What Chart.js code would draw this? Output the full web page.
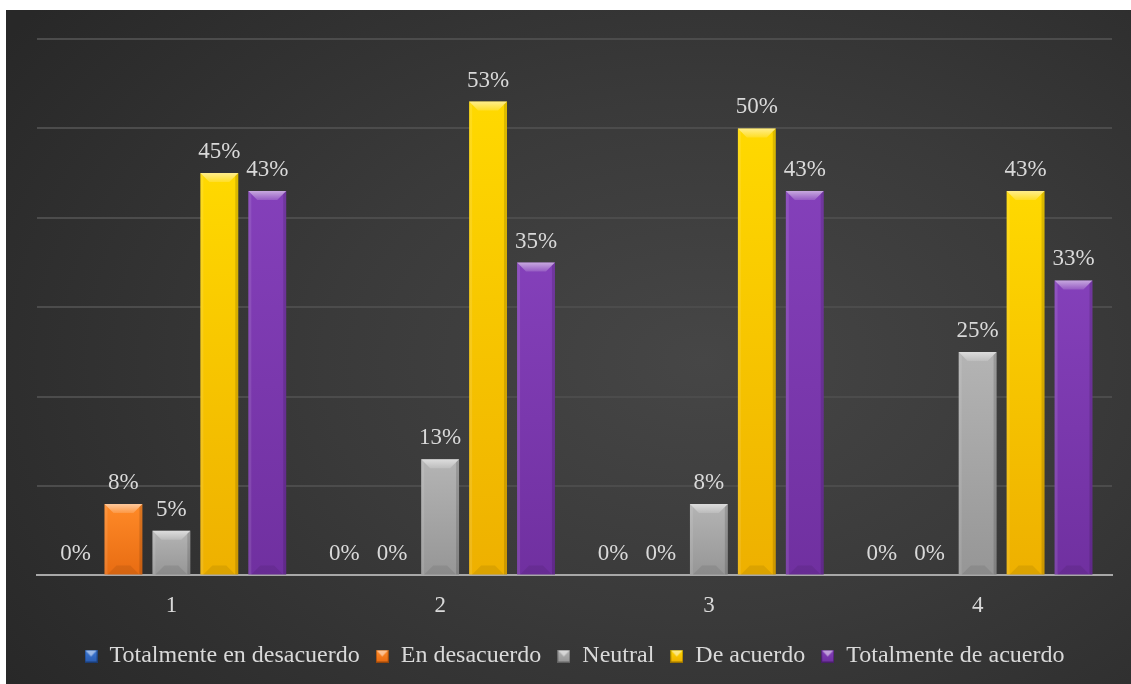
<!DOCTYPE html>
<html>
<head>
<meta charset="utf-8">
<script src="https://cdn.jsdelivr.net/npm/chart.js@4.4.1/dist/chart.umd.min.js"></script>
<style>
  html, body { margin: 0; padding: 0; background: #ffffff; }
  #wrap {
    position: absolute; left: 6px; top: 10px; width: 1125px; height: 674px;
    background: radial-gradient(ellipse 75% 85% at 62% 52%, #464646 0%, #3a3a3a 45%, #282828 100%);
  }
</style>
</head>
<body>
<div id="wrap"><canvas id="chart" width="1125" height="674"></canvas></div>
<script>
// --- DATA ---
const categories = ['1', '2', '3', '4'];
const seriesNames = ['Totalmente en desacuerdo', 'En desacuerdo', 'Neutral', 'De acuerdo', 'Totalmente de acuerdo'];
const totalDesacuerdo = [0, 0, 0, 0];
const enDesacuerdo = [8, 0, 0, 0];
const neutral = [5, 13, 8, 25];
const deAcuerdo = [45, 53, 50, 43];
const totalAcuerdo = [43, 35, 43, 33];
const yTicks = [0, 10, 20, 30, 40, 50, 60];

// top / bottom colours of each series
const topColors = ['#3B78D6', '#FF8A28', '#B4B4B4', '#FFD900', '#8440BA'];
const bottomColors = ['#2A5CB0', '#E86C12', '#969696', '#EEB000', '#7030A0'];

const serif = "'Liberation Serif', 'Times New Roman', serif";
const textColor = '#D9D9D9';

// small bevelled square used as legend marker
function makeMarker(top, bottom) {
    const c = document.createElement('canvas');
    c.width = 13; c.height = 13;
    const g = c.getContext('2d');
    const grd = g.createLinearGradient(0, 0, 0, 13);
    grd.addColorStop(0, top);
    grd.addColorStop(1, bottom);
    g.fillStyle = grd;
    g.fillRect(0, 0, 13, 13);
    g.fillStyle = 'rgba(255,255,255,0.5)';
    g.beginPath();
    g.moveTo(1, 1); g.lineTo(12, 1); g.lineTo(6.5, 7); g.closePath();
    g.fill();
    g.strokeStyle = 'rgba(0,0,0,0.35)';
    g.strokeRect(0.5, 0.5, 12, 12);
    return c;
}

function barGradient(i) {
    return (ctx) => {
        const chart = ctx.chart;
        const y = chart.scales.y;
        if (!y || ctx.parsed == null) return topColors[i];
        const top = y.getPixelForValue(ctx.parsed.y);
        const base = y.getPixelForValue(0);
        if (!isFinite(top) || base - top < 1) return topColors[i];
        const grd = chart.ctx.createLinearGradient(0, top, 0, base);
        grd.addColorStop(0, topColors[i]);
        grd.addColorStop(1, bottomColors[i]);
        return grd;
    };
}

const seriesData = [totalDesacuerdo, enDesacuerdo, neutral, deAcuerdo, totalAcuerdo];

// bevel highlight and shade drawn over each bar
const bevelPlugin = {
    id: 'bevel',
    afterDatasetsDraw(chart) {
        const ctx = chart.ctx;
        chart.data.datasets.forEach((ds, di) => {
            const meta = chart.getDatasetMeta(di);
            meta.data.forEach((el) => {
                const p = el.getProps(['x', 'y', 'base', 'width'], true);
                const h = p.base - p.y;
                if (h < 2) return;
                const l = p.x - p.width / 2, r = p.x + p.width / 2;
                const b = Math.min(9, h / 2);
                ctx.save();
                const hl = ctx.createLinearGradient(0, p.y, 0, p.y + b);
                hl.addColorStop(0, 'rgba(255,255,255,0.55)');
                hl.addColorStop(1, 'rgba(255,255,255,0.15)');
                ctx.fillStyle = hl;
                ctx.beginPath();
                ctx.moveTo(l, p.y); ctx.lineTo(r, p.y); ctx.lineTo(r - b, p.y + b); ctx.lineTo(l + b, p.y + b); ctx.closePath();
                ctx.fill();
                ctx.fillStyle = 'rgba(255,255,255,0.10)';
                ctx.beginPath();
                ctx.moveTo(l, p.y); ctx.lineTo(l + 3, p.y + 3); ctx.lineTo(l + 3, p.base); ctx.lineTo(l, p.base); ctx.closePath();
                ctx.fill();
                ctx.fillStyle = 'rgba(0,0,0,0.14)';
                ctx.beginPath();
                ctx.moveTo(r, p.y); ctx.lineTo(r - 3, p.y + 3); ctx.lineTo(r - 3, p.base); ctx.lineTo(r, p.base); ctx.closePath();
                ctx.fill();
                ctx.fillStyle = 'rgba(0,0,0,0.08)';
                ctx.beginPath();
                ctx.moveTo(l + 3, p.base); ctx.lineTo(l + 3 + b, p.base - b); ctx.lineTo(r - 3 - b, p.base - b); ctx.lineTo(r - 3, p.base); ctx.closePath();
                ctx.fill();
                ctx.restore();
            });
        });
    }
};

// percentage labels above bars
const valueLabels = {
    id: 'valueLabels',
    afterDatasetsDraw(chart) {
        const ctx = chart.ctx;
        ctx.save();
        ctx.font = '23px ' + serif;
        ctx.fillStyle = textColor;
        ctx.textAlign = 'center';
        ctx.textBaseline = 'alphabetic';
        chart.data.datasets.forEach((ds, di) => {
            const meta = chart.getDatasetMeta(di);
            meta.data.forEach((el, i) => {
                const p = el.getProps(['x', 'y'], true);
                ctx.fillText(ds.data[i] + '%', p.x, p.y - 15);
            });
        });
        ctx.restore();
    }
};

// pull the legend row up a little, closer to the axis labels
const legendShift = {
    id: 'legendShift',
    afterLayout(chart) {
        if (!chart.legend) return;
        chart.legend.top -= 9;
        chart.legend.bottom -= 9;
    }
};

new Chart(document.getElementById('chart'), {
    type: 'bar',
    data: {
        labels: categories,
        datasets: seriesNames.map((name, i) => ({
            label: name,
            data: seriesData[i],
            backgroundColor: barGradient(i),
            borderWidth: 0,
            pointStyle: makeMarker(topColors[i], bottomColors[i]),
            categoryPercentage: 0.892,
            barPercentage: 0.79
        }))
    },
    options: {
        responsive: false,
        animation: false,
        layout: { padding: { left: 31, right: 19, top: 29, bottom: -3 } },
        scales: {
            x: {
                grid: { display: false, drawTicks: false },
                border: { display: true, color: '#A8A8A8', width: 2 },
                ticks: { color: textColor, font: { family: serif, size: 23 }, padding: 17 }
            },
            y: {
                min: yTicks[0],
                max: yTicks[yTicks.length - 1],
                afterBuildTicks: (scale) => { scale.ticks = yTicks.map(v => ({ value: v })); },
                grid: {
                    drawTicks: false,
                    lineWidth: 2,
                    color: (c) => c.tick && c.tick.value === 0 ? 'rgba(0,0,0,0)' : '#4C4C4C'
                },
                border: { display: false },
                ticks: { display: false }
            }
        },
        plugins: {
            tooltip: { enabled: false },
            legend: {
                position: 'bottom',
                labels: {
                    usePointStyle: true,
                    boxWidth: 13,
                    boxHeight: 13,
                    padding: 16,
                    color: textColor,
                    font: { family: serif, size: 24 }
                }
            }
        }
    },
    plugins: [bevelPlugin, valueLabels, legendShift]
});
</script>
</body>
</html>
